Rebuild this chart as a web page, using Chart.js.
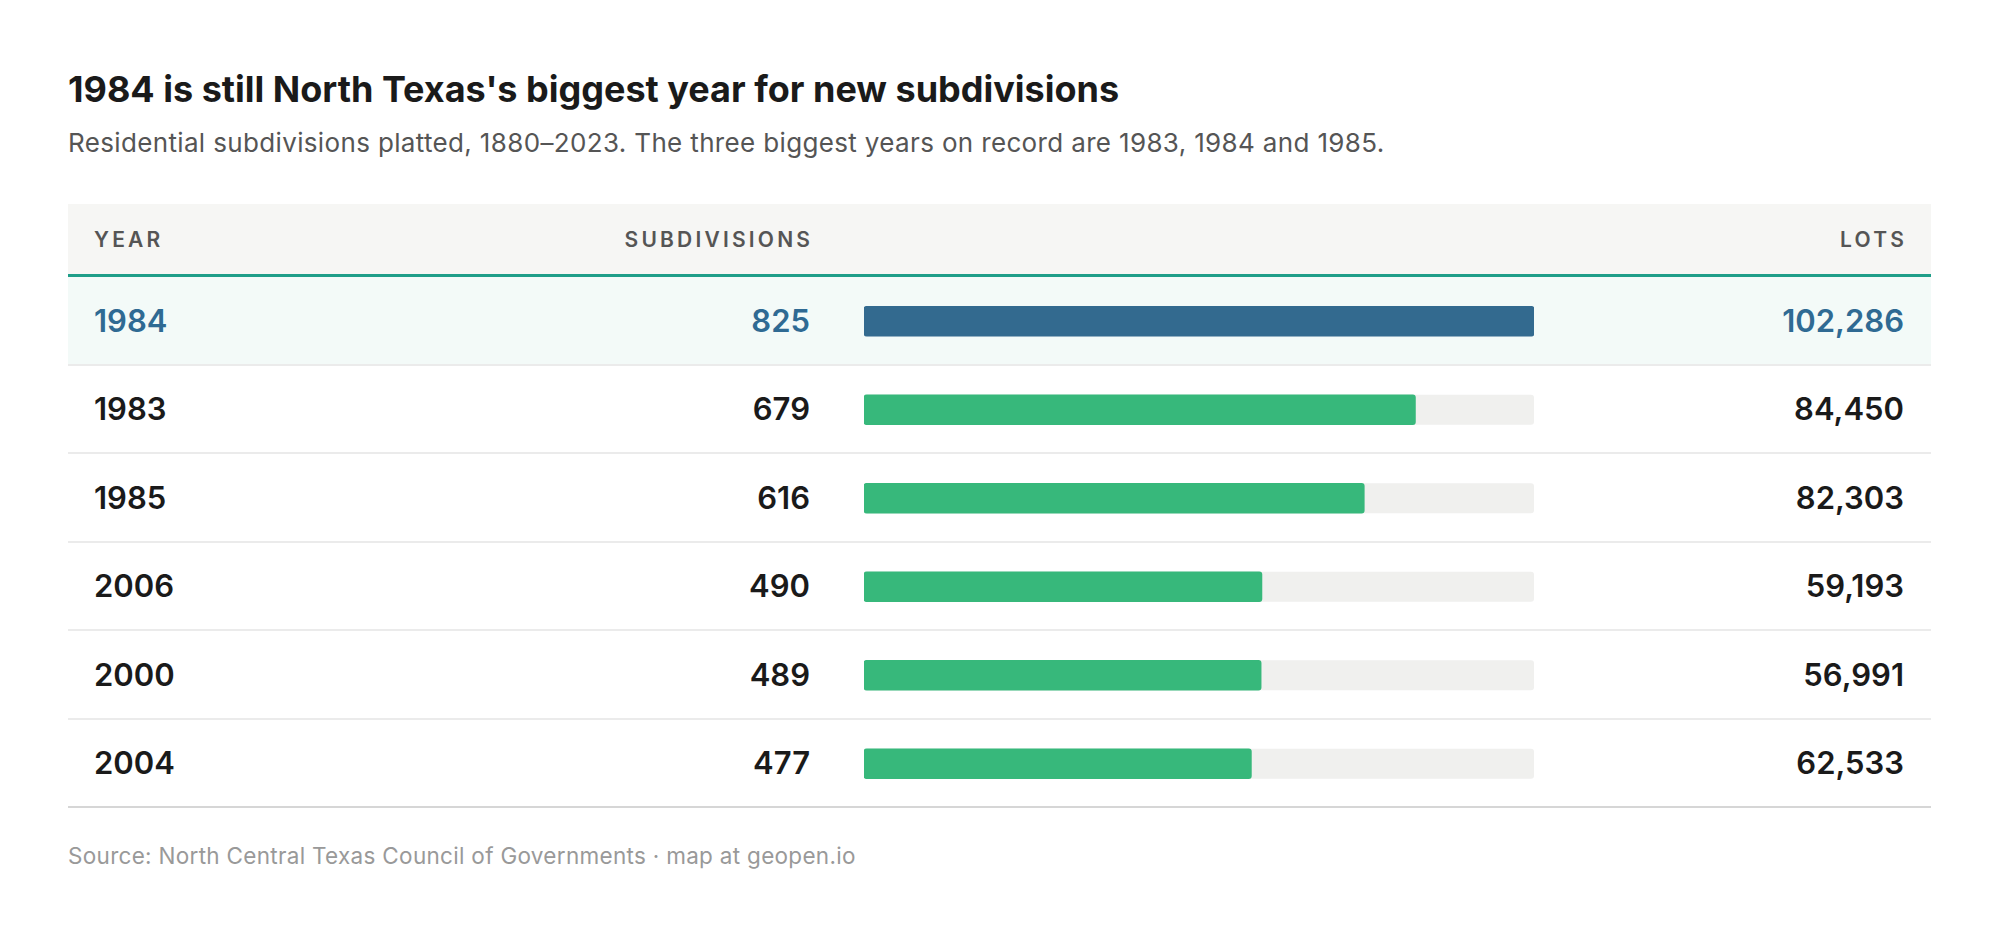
<!DOCTYPE html>
<html>
<head>
<meta charset="utf-8">
<script src="https://cdn.jsdelivr.net/npm/chart.js@4.4.0/dist/chart.umd.min.js"></script>
<style>
  body { margin: 0; background: #fff; font-family: Inter, "Noto Sans", sans-serif; }
  #page { position: relative; width: 2000px; height: 926px; overflow: hidden; }
  h1 { position: absolute; left: 68px; top: 69px; margin: 0; font-size: 36px; line-height: 40px; font-weight: 700; color: #1a1a1a; letter-spacing: 0; white-space: nowrap; }
  .sub { position: absolute; left: 68px; top: 127px; font-size: 26px; line-height: 32px; color: #555; letter-spacing: 0.35px; white-space: nowrap; }
  .source { position: absolute; left: 68px; top: 843px; font-size: 22.5px; line-height: 26px; color: #999; letter-spacing: 0.3px; white-space: nowrap; }
  #table { position: absolute; left: 68px; top: 204px; width: 1863px; }
  .head { height: 70px; background: #f6f6f4; border-bottom: 3px solid #1f9e89; position: relative;
          font-size: 21px; font-weight: 600; letter-spacing: 3.2px; color: #555; }
  .row { height: 88.5px; box-sizing: border-box; border-bottom: 2px solid #ebebeb; position: relative;
         font-size: 31px; font-weight: 600; color: #1a1a1a; }
  .row.hl { background: #f3faf8; color: #2f6a93; }
  .row:last-child { border-bottom-color: #d6d6d6; }
  .cell { position: absolute; top: 0; bottom: 0; display: flex; align-items: center; white-space: nowrap; }
  .c-year { left: 26px; }
  .c-sub { right: 1121px; }
  .c-lots { right: 27px; }
  .head .c-sub, .head .c-lots { margin-right: -3.2px; }
  #barbox { position: absolute; left: 796px; top: 73px; width: 670px; height: 531px; }
</style>
</head>
<body>
<div id="page">
  <h1>1984 is still North Texas's biggest year for new subdivisions</h1>
  <div class="sub">Residential subdivisions platted, 1880–2023. The three biggest years on record are 1983, 1984 and 1985.</div>
  <div id="table">
    <div class="head">
      <div class="cell c-year">YEAR</div>
      <div class="cell c-sub">SUBDIVISIONS</div>
      <div class="cell c-lots">LOTS</div>
    </div>
    <div id="rows"></div>
    <div id="barbox"><canvas id="bars"></canvas></div>
  </div>
  <div class="source">Source: North Central Texas Council of Governments · map at geopen.io</div>
</div>
<script>
// top years by subdivisions platted
const years = ['1984', '1983', '1985', '2006', '2000', '2004'];
const subdivisions = [825, 679, 616, 490, 489, 477];
const lots = [102286, 84450, 82303, 59193, 56991, 62533];
const highlightYear = '1984';

const blue = '#336a8f';
const green = '#37b87b';
const track = '#f0f0ee';

// build the table rows
const rowsEl = document.getElementById('rows');
years.forEach((y, i) => {
  const row = document.createElement('div');
  row.className = 'row' + (y === highlightYear ? ' hl' : '');
  row.innerHTML =
    '<div class="cell c-year">' + y + '</div>' +
    '<div class="cell c-sub">' + subdivisions[i].toLocaleString('en-US') + '</div>' +
    '<div class="cell c-lots">' + lots[i].toLocaleString('en-US') + '</div>';
  rowsEl.appendChild(row);
});

const maxSub = Math.max(...subdivisions);

// grey track behind each bar, full width of the scale
const trackPlugin = {
  id: 'track',
  beforeDatasetsDraw(chart) {
    const ctx = chart.ctx;
    const x = chart.scales.x;
    const meta = chart.getDatasetMeta(0);
    ctx.save();
    ctx.fillStyle = track;
    meta.data.forEach(bar => {
      const left = x.getPixelForValue(0);
      const right = x.getPixelForValue(maxSub);
      ctx.beginPath();
      ctx.roundRect(left, bar.y - bar.height / 2, right - left, bar.height, 3);
      ctx.fill();
    });
    ctx.restore();
  }
};

new Chart(document.getElementById('bars'), {
  type: 'bar',
  data: {
    labels: years,
    datasets: [{
      data: subdivisions,
      backgroundColor: years.map(y => y === highlightYear ? blue : green),
      borderRadius: 3,
      borderSkipped: false,
      barThickness: 30
    }]
  },
  options: {
    indexAxis: 'y',
    responsive: true,
    maintainAspectRatio: false,
    animation: false,
    layout: { padding: 0 },
    plugins: { legend: { display: false }, tooltip: { enabled: false } },
    scales: {
      x: { display: false, min: 0, max: maxSub },
      y: { display: false }
    }
  },
  plugins: [trackPlugin]
});
</script>
</body>
</html>
